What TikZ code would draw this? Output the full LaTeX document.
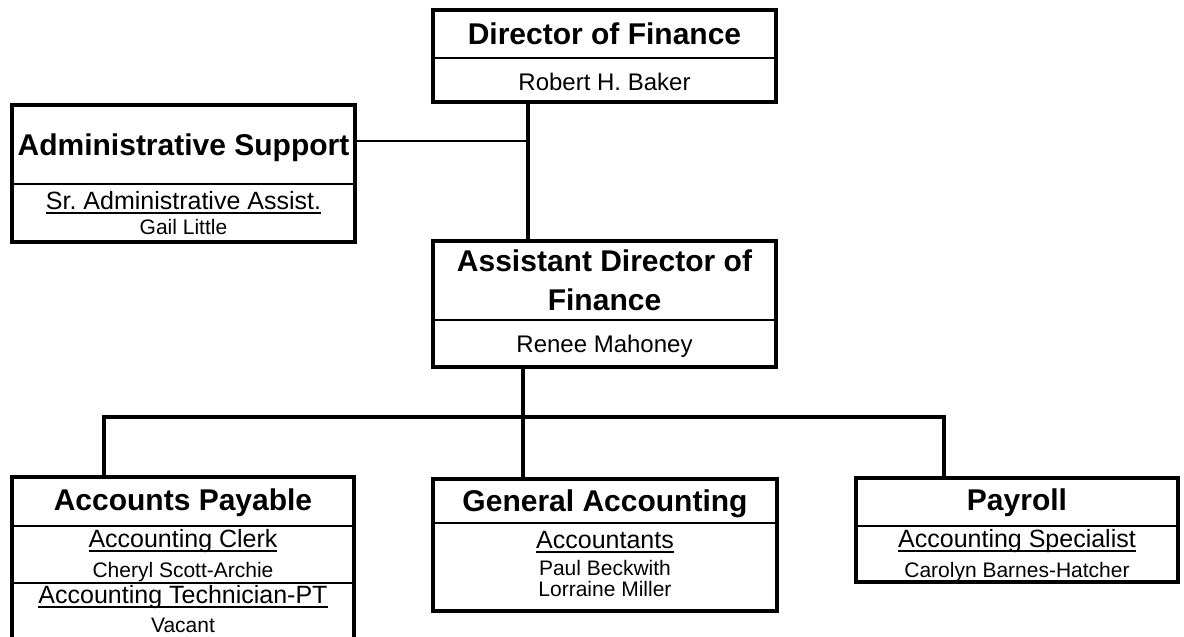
\documentclass[tikz,border=0pt]{standalone}
\usepackage{fontspec}
\setmainfont{Liberation Sans}
\usepackage{tikz}
\frenchspacing

\newcommand{\roleline}[1]{\setbox0\hbox{#1}\rlap{\rule[-4.5pt]{\wd0}{2pt}}\box0}

\begin{document}
\begin{tikzpicture}[x=1pt,y=-1pt,semithick]
        \tikzstyle{unitbox}=[
            rectangle,
            draw=black,
            line width=3.5pt,
            inner sep=0pt
        ]
        \tikzstyle{splitline}=[line width=2.5pt]
        \tikzstyle{unittitle}=[anchor=base, inner sep=0pt, align=center, font=\bfseries\fontsize{30}{39}\selectfont]
        \tikzstyle{headname}=[anchor=base, inner sep=0pt, font=\fontsize{24}{29}\selectfont]
        \tikzstyle{rolename}=[anchor=base, inner sep=0pt, font=\fontsize{25}{30}\selectfont]
        \tikzstyle{staffname}=[anchor=base, inner sep=0pt, font=\fontsize{21}{25}\selectfont]
        \tikzstyle{trunk}=[line width=4pt]
        \tikzstyle{sidelink}=[line width=1.8pt]

        \useasboundingbox (0,0) rectangle (1184,637);

        % boxes
        \node[unitbox, minimum width=343, minimum height=92] (dir) at (604.5,56){};
        \node[unitbox, minimum width=343, minimum height=137] (adm) at (183.5,173.5){};
        \node[unitbox, minimum width=343, minimum height=126] (asst) at (604.5,304){};
        \node[unitbox, minimum width=342, minimum height=168] (ap) at (183,561){};
        \node[unitbox, minimum width=344, minimum height=132] (ga) at (605,545){};
        \node[unitbox, minimum width=322, minimum height=104] (pay) at (1017,530){};

        \draw[splitline] (433,58) -- (776,58);
        \draw[splitline] (12,184) -- (355,184);
        \draw[splitline] (433,320) -- (776,320);
        \draw[splitline] (12,526) -- (354,526);
        \draw[splitline] (12,583) -- (354,583);
        \draw[splitline] (433,523) -- (777,523);
        \draw[splitline] (856,526) -- (1178,526);

        % texts
        \node[unittitle] (dirT) at (604.5,45){Director of Finance};
        \node[headname] (dirN) at (604.5,90){Robert H. Baker};

        \node[unittitle] (admT) at (183.5,155){Administrative Support};
        \node[rolename] (admR) at (183.5,209){\roleline{Sr. Administrative Assist.}};
        \node[staffname] (admN) at (183.5,234){Gail Little};

        % base of a two-line node sits on its last line
        \node[unittitle] (asstT) at (604.5,310){Assistant Director of\\Finance};
        \node[headname] (asstN) at (604.5,352){Renee Mahoney};

        \node[unittitle] (apT) at (183,510){Accounts Payable};
        \node[rolename] (apR1) at (183,547){\roleline{Accounting Clerk}};
        \node[staffname] (apN1) at (183,577){Cheryl Scott-Archie};
        \node[rolename] (apR2) at (183,603){\roleline{Accounting Technician-PT}};
        \node[staffname] (apN2) at (183,632){Vacant};

        \node[unittitle] (gaT) at (605,511){General Accounting};
        \node[rolename] (gaR) at (605,548){\roleline{Accountants}};
        \node[staffname] (gaN1) at (605,575){Paul Beckwith};
        \node[staffname] (gaN2) at (605,596){Lorraine Miller};

        \node[unittitle] (payT) at (1017,510){Payroll};
        \node[rolename] (payR) at (1017,547){\roleline{Accounting Specialist}};
        \node[staffname] (payN) at (1017,577){Carolyn Barnes-Hatcher};

        % connectors
        \coordinate (upJoin) at (528,141);
        \coordinate (busMid) at (523,417);
        \coordinate (busLeft) at (104,417);
        \coordinate (busRight) at (944,417);

        \draw[trunk] (dir.south -| upJoin) -- (asst.north -| upJoin);
        \draw[sidelink] (adm.east |- upJoin) -- (upJoin);
        \draw[trunk] (asst.south -| busMid) -- (ga.north -| busMid);
        \draw[trunk] (ap.north -| busLeft) -- (busLeft) -- (busRight) -- (pay.north -| busRight);

    \end{tikzpicture}
\end{document}
